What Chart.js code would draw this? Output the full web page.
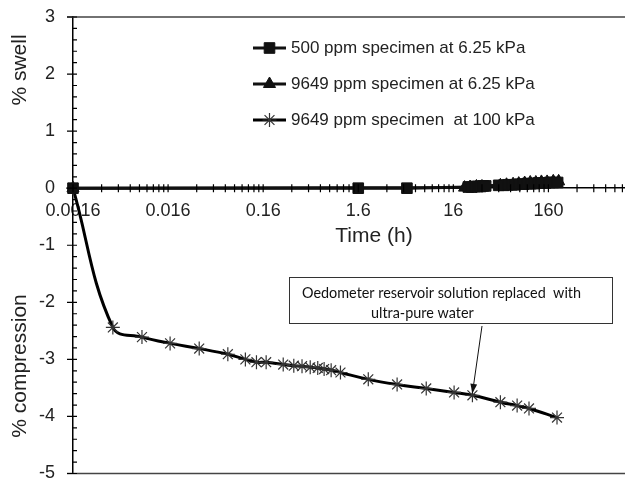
<!DOCTYPE html>
<html>
<head>
<meta charset="utf-8">
<title>Swell / compression vs time</title>
<script src="https://cdn.jsdelivr.net/npm/chart.js@4.4.1/dist/chart.umd.min.js"></script>
<style>
    html, body { margin: 0; padding: 0; overflow: hidden; background: #fff; }
    #wrap { width: 625px; height: 482px; overflow: hidden; }
</style>
</head>
<body>
<div id="wrap"><canvas id="swellChart" width="652" height="482"></canvas></div>
<script>
// 500 ppm specimen at 6.25 kPa
const timeLow = [0.0016, 1.6, 5.2, 23, 25, 27, 29, 31, 33, 35, 48, 54, 60, 66, 72, 80, 88, 96, 105, 115, 125, 135, 150, 165, 180, 200];
const swellLow = [0, 0, 0, 0.02, 0.02, 0.03, 0.03, 0.03, 0.04, 0.04, 0.05, 0.05, 0.06, 0.06, 0.06, 0.07, 0.07, 0.08, 0.08, 0.08, 0.09, 0.09, 0.09, 0.1, 0.1, 0.1];

// 9649 ppm specimen at 6.25 kPa
const timeHigh = [0.0016, 21, 24, 28, 32, 50, 58, 68, 78, 90, 103, 118, 135, 155, 180, 205];
const swellHigh = [0, 0.01, 0.02, 0.03, 0.03, 0.05, 0.06, 0.07, 0.08, 0.09, 0.1, 0.1, 0.11, 0.11, 0.12, 0.12];

// 9649 ppm specimen at 100 kPa (compression, negative)
const timeComp = [0.0016, 0.0042, 0.0085, 0.0168, 0.034, 0.068, 0.104, 0.136, 0.172, 0.26, 0.336, 0.41, 0.5, 0.6, 0.7, 0.83, 1.04, 2.04, 4.1, 8.3, 16.3, 25.4, 50, 75, 100, 197];
const compValues = [0, -2.44, -2.61, -2.72, -2.81, -2.91, -3.0, -3.05, -3.05, -3.09, -3.11, -3.12, -3.14, -3.15, -3.17, -3.19, -3.23, -3.35, -3.44, -3.51, -3.58, -3.63, -3.75, -3.81, -3.86, -4.02];

const seriesNames = ['500 ppm specimen at 6.25 kPa', '9649 ppm specimen at 6.25 kPa', '9649 ppm specimen  at 100 kPa'];

// axis ticks (the 1600 decade is cut off by the frame, so no label)
const xDecades = [0.0016, 0.016, 0.16, 1.6, 16, 160, 1600];
const xTickLabels = ['0.0016', '0.016', '0.16', '1.6', '16', '160', ''];
const yTickValues = [3, 2, 1, 0, -1, -2, -3, -4, -5];
const yTickLabels = ['3', '2', '1', '0', '-1', '-2', '-3', '-4', '-5'];

const noteLines = ['Oedometer reservoir solution replaced  with', 'ultra-pure water'];
const noteIndex = 21; // arrow points at timeComp[21]

function toPoints(xs, ys) {
    return xs.map((t, i) => ({ x: t, y: ys[i] }));
}

const FONT = '"Liberation Sans", Arial, sans-serif';

// legend, axis titles, ticks, frame, note box
const extras = {
    id: 'extras',
    afterDraw(chart) {
        const { ctx, chartArea } = chart;
        const xs = chart.scales.x, ys = chart.scales.y;
        const y0 = ys.getPixelForValue(0);
        const left = chartArea.left;
        ctx.save();

        // top and bottom frame lines
        ctx.strokeStyle = '#444';
        ctx.lineWidth = 1.5;
        ctx.beginPath();
        ctx.moveTo(left - 6, chartArea.top); ctx.lineTo(chartArea.right, chartArea.top);
        ctx.moveTo(left - 6, chartArea.bottom); ctx.lineTo(chartArea.right, chartArea.bottom);
        ctx.stroke();

        // y ticks: major crossing, minor inside
        ctx.strokeStyle = '#000';
        ctx.lineWidth = 1.2;
        ctx.beginPath();
        ys.ticks.forEach(t => {
            const py = ys.getPixelForValue(t.value);
            const major = Math.abs(t.value - Math.round(t.value)) < 1e-6;
            ctx.moveTo(major ? left - 6 : left, py);
            ctx.lineTo(left + 4, py);
        });
        // x ticks crossing the zero line
        xs.ticks.forEach(t => {
            const px = xs.getPixelForValue(t.value);
            ctx.moveTo(px, y0 - 4);
            ctx.lineTo(px, y0 + 4);
        });
        ctx.stroke();

        // axis titles
        ctx.fillStyle = '#222';
        ctx.font = '21px ' + FONT;
        ctx.textAlign = 'center';
        ctx.textBaseline = 'middle';
        ctx.fillText('Time (h)', 374, 236);
        ctx.save();
        ctx.translate(20, 70);
        ctx.rotate(-Math.PI / 2);
        ctx.fillText('% swell', 0, 0);
        ctx.restore();
        ctx.save();
        ctx.translate(20, 366);
        ctx.rotate(-Math.PI / 2);
        ctx.fillText('% compression', 0, 0);
        ctx.restore();

        // legend
        ctx.font = '17px ' + FONT;
        ctx.textAlign = 'left';
        chart.data.datasets.forEach((ds, i) => {
            const ly = 48 + i * 36;
            ctx.strokeStyle = ds.borderColor;
            ctx.lineWidth = 3;
            ctx.beginPath();
            ctx.moveTo(253, ly); ctx.lineTo(286, ly);
            ctx.stroke();
            ctx.fillStyle = ds.pointBackgroundColor;
            ctx.strokeStyle = ds.pointBorderColor;
            ctx.lineWidth = ds.pointBorderWidth;
            Chart.helpers.drawPoint(ctx, {
                pointStyle: ds.pointStyle, radius: ds.pointRadius, rotation: 0,
                borderWidth: ds.pointBorderWidth
            }, 269.5, ly);
            ctx.fillStyle = '#222';
            ctx.fillText(ds.label, 291, ly);
        });

        // note box
        ctx.strokeStyle = '#333';
        ctx.lineWidth = 1;
        ctx.strokeRect(289.5, 277.5, 323, 46);
        ctx.fillStyle = '#111';
        ctx.font = '14.4px Lato, "Open Sans", sans-serif';
        ctx.fillText(noteLines[0], 302, 293);
        ctx.fillText(noteLines[1], 371, 313);

        // arrow to the point where the solution was replaced
        const tx = xs.getPixelForValue(timeComp[noteIndex]);
        const ty = ys.getPixelForValue(compValues[noteIndex]) - 2;
        const sx = 482, sy = 326;
        const ang = Math.atan2(ty - sy, tx - sx);
        ctx.strokeStyle = '#111';
        ctx.lineWidth = 1;
        ctx.beginPath();
        ctx.moveTo(sx, sy); ctx.lineTo(tx, ty);
        ctx.stroke();
        ctx.fillStyle = '#111';
        ctx.beginPath();
        ctx.moveTo(tx, ty);
        ctx.lineTo(tx - 10 * Math.cos(ang - 0.35), ty - 10 * Math.sin(ang - 0.35));
        ctx.lineTo(tx - 10 * Math.cos(ang + 0.35), ty - 10 * Math.sin(ang + 0.35));
        ctx.closePath();
        ctx.fill();

        ctx.restore();
    }
};

const chartData = {
    datasets: [{
        label: seriesNames[0],
        data: toPoints(timeLow, swellLow),
        borderColor: '#111',
        borderWidth: 3,
        pointStyle: 'rect',
        pointRadius: 7.5,
        pointBackgroundColor: '#111',
        pointBorderColor: '#111',
        pointBorderWidth: 1,
        tension: 0,
        clip: false
    }, {
        label: seriesNames[1],
        data: toPoints(timeHigh, swellHigh),
        borderColor: '#111',
        borderWidth: 3,
        pointStyle: 'triangle',
        pointRadius: 7,
        pointBackgroundColor: '#111',
        pointBorderColor: '#111',
        pointBorderWidth: 1,
        tension: 0,
        clip: false
    }, {
        label: seriesNames[2],
        data: toPoints(timeComp, compValues),
        borderColor: '#000',
        borderWidth: 3,
        pointStyle: 'star',
        pointRadius: 7,
        pointBackgroundColor: '#333',
        pointBorderColor: '#333',
        pointBorderWidth: 1.2,
        tension: 0.4,
        clip: false
    }]
};

const config = {
    type: 'line',
    data: chartData,
    options: {
        responsive: false,
        animation: false,
        layout: { padding: { top: 17, bottom: 7, left: 0, right: 0 } },
        scales: {
            x: {
                type: 'logarithmic',
                min: 0.0016,
                max: 1600,
                position: { y: 0 },
                border: { color: '#000', width: 1.5 },
                grid: { display: false, drawTicks: false },
                afterBuildTicks(scale) {
                    const ticks = [];
                    xDecades.forEach((d, i) => {
                        ticks.push({ value: d, lab: xTickLabels[i] });
                        if (i < xDecades.length - 1) {
                            for (let m = 2; m <= 9; m++) ticks.push({ value: d * m, lab: '' });
                        }
                    });
                    scale.ticks = ticks;
                },
                afterFit(scale) {
                    scale.height = 0;
                    scale.paddingLeft = 0; scale.paddingRight = 0;
                    scale.paddingTop = 0; scale.paddingBottom = 0;
                },
                ticks: {
                    autoSkip: false,
                    maxRotation: 0,
                    padding: 12,
                    color: '#222',
                    font: { family: FONT, size: 18 },
                    callback: (v, i, ticks) => ticks[i].lab
                }
            },
            y: {
                min: -5,
                max: 3,
                border: { color: '#000', width: 1.5 },
                grid: { display: false, drawTicks: false },
                afterBuildTicks(scale) {
                    const ticks = [];
                    for (let k = 0; k <= 40; k++) {
                        const v = -5 + k * 0.2;
                        const j = yTickValues.findIndex(t => Math.abs(t - v) < 1e-6);
                        ticks.push({ value: v, lab: j >= 0 ? yTickLabels[j] : '' });
                    }
                    scale.ticks = ticks;
                },
                afterFit(scale) {
                    scale.width = 73;
                    scale.paddingTop = 0; scale.paddingBottom = 0;
                },
                ticks: {
                    autoSkip: false,
                    padding: 18,
                    color: '#222',
                    font: { family: FONT, size: 18 },
                    callback: (v, i, ticks) => ticks[i].lab
                }
            }
        },
        plugins: {
            legend: { display: false },
            tooltip: { enabled: false }
        }
    },
    plugins: [extras]
};

const swellChart = new Chart(document.getElementById('swellChart'), config);
</script>
</body>
</html>
